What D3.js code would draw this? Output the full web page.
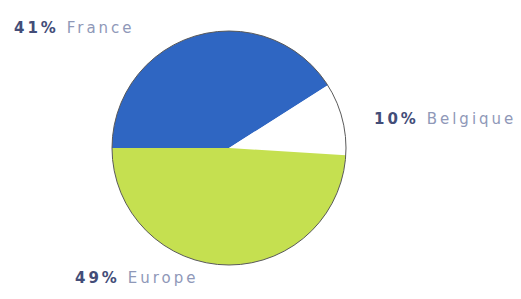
<!DOCTYPE html>
<html>
<head>
<meta charset="utf-8">
<script src="https://cdn.jsdelivr.net/npm/d3@7"></script>
<style>
  body { margin: 0; background: #fff; }
  .pct { font-weight: bold; fill: #434d78; }
  .name { fill: #8f98b8; }
  text { font-family: "DejaVu Sans", sans-serif; font-size: 15px; letter-spacing: 3px; }
</style>
</head>
<body>
<div id="chart"></div>
<script>
// data
var categories = ["France", "Belgique", "Europe"]
var values = [41, 10, 49]
var colors = ["#2f66c2", "#ffffff", "#c5e050"]

var svgWidth = 521
var svgHeight = 299

var svg = d3.select("#chart")
  .append("svg")
  .attr("width", svgWidth)
  .attr("height", svgHeight)

var cx = 229, cy = 148, radius = 117

var pie = d3.pie()
  .sort(null)
  .startAngle(-Math.PI / 2)
  .endAngle(Math.PI * 1.5)
  .value(d => d)

var arc = d3.arc().innerRadius(0).outerRadius(radius)

var pieGroup = svg.append("g")
  .attr("transform", `translate(${cx}, ${cy})`)

pieGroup.selectAll("path")
  .data(pie(values))
  .enter()
  .append("path")
  .attr("d", arc)
  .attr("fill", (d, i) => colors[i])

// outline
pieGroup.append("circle")
  .attr("r", radius)
  .attr("fill", "none")
  .attr("stroke", "#5a5a5a")
  .attr("stroke-width", 1)

// labels (placed by hand like the source)
var labelPos = [[14, 33], [374, 124], [75, 283]]

categories.forEach(function(c, i) {
  var t = svg.append("text")
    .attr("x", labelPos[i][0])
    .attr("y", labelPos[i][1])
  t.append("tspan").attr("class", "pct").text(values[i] + "%")
  t.append("tspan").attr("class", "name").text(" " + c)
})
</script>
</body>
</html>
